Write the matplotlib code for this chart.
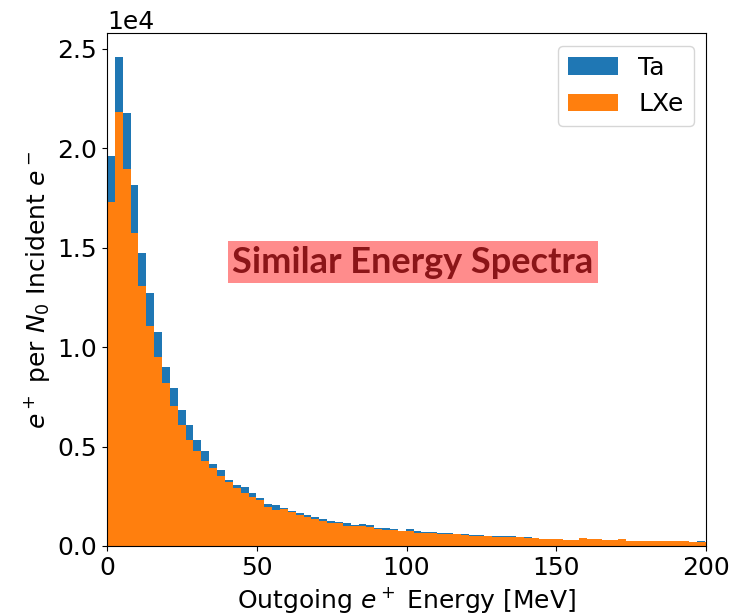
import matplotlib
matplotlib.use("Agg")
import matplotlib.pyplot as plt
import numpy as np

# 80 bins spanning 0-210 MeV, x axis cut at 200
edges = np.linspace(0, 210, 81)

ta = np.array([
    1.963, 2.456, 2.177, 1.816, 1.472, 1.270, 1.076, 0.899, 0.794, 0.685,
    0.607, 0.531, 0.478, 0.411, 0.381, 0.334, 0.309, 0.297, 0.267, 0.239,
    0.211, 0.205, 0.190, 0.175, 0.164, 0.157, 0.147, 0.134, 0.125, 0.120,
    0.114, 0.104, 0.109, 0.104, 0.092, 0.089, 0.084, 0.077, 0.084, 0.077,
    0.072, 0.070, 0.064, 0.064, 0.060, 0.060, 0.054, 0.053, 0.052, 0.052,
    0.048, 0.052, 0.047, 0.043, 0.041, 0.037, 0.037, 0.037, 0.031, 0.031,
    0.041, 0.035, 0.035, 0.032, 0.030, 0.035, 0.027, 0.026, 0.026, 0.026,
    0.025, 0.026, 0.025, 0.025, 0.021, 0.027, 0.022, 0.020, 0.019, 0.018,
]) * 1e4

lxe = np.array([
    1.731, 2.180, 1.896, 1.576, 1.308, 1.108, 0.949, 0.819, 0.703, 0.607,
    0.531, 0.478, 0.425, 0.394, 0.351, 0.320, 0.294, 0.267, 0.247, 0.231,
    0.195, 0.180, 0.186, 0.169, 0.155, 0.147, 0.137, 0.127, 0.115, 0.114,
    0.102, 0.100, 0.102, 0.097, 0.084, 0.080, 0.080, 0.074, 0.077, 0.067,
    0.067, 0.064, 0.062, 0.059, 0.058, 0.056, 0.052, 0.052, 0.050, 0.047,
    0.047, 0.047, 0.046, 0.040, 0.040, 0.036, 0.034, 0.034, 0.030, 0.030,
    0.040, 0.034, 0.034, 0.029, 0.029, 0.034, 0.026, 0.025, 0.025, 0.025,
    0.024, 0.025, 0.024, 0.024, 0.020, 0.020, 0.020, 0.019, 0.018, 0.017,
]) * 1e4

centers = 0.5 * (edges[:-1] + edges[1:])

fig = plt.figure(figsize=(7.44, 6.15), dpi=100)
ax = fig.add_axes([0.1438, 0.1122, 0.8052, 0.8341])

ax.hist(centers, bins=edges, weights=ta, color='C0', label='Ta')
ax.hist(centers, bins=edges, weights=lxe, color='C1', label='LXe')

ax.set_xlim(0, 200)
ax.set_xticks([0, 50, 100, 150, 200])
ax.ticklabel_format(axis='y', style='sci', scilimits=(0, 0))
ax.yaxis.get_offset_text().set_fontsize(18)
ax.tick_params(labelsize=18)
ax.set_xlabel('Outgoing $e^+$ Energy [MeV]', fontsize=18)
ax.set_ylabel('$e^+$ per $N_0$ Incident $e^-$', fontsize=18)
ax.legend(loc='upper right', fontsize=18)

ax.text(0.511, 0.553, 'Similar Energy Spectra', transform=ax.transAxes,
        ha='center', va='center', fontsize=26, fontweight='bold',
        family=['Lato', 'DejaVu Sans'], color='#8b1518',
        bbox=dict(facecolor='#ff8c8c', edgecolor='none', pad=3))

fig.savefig('out.png', dpi=100)
